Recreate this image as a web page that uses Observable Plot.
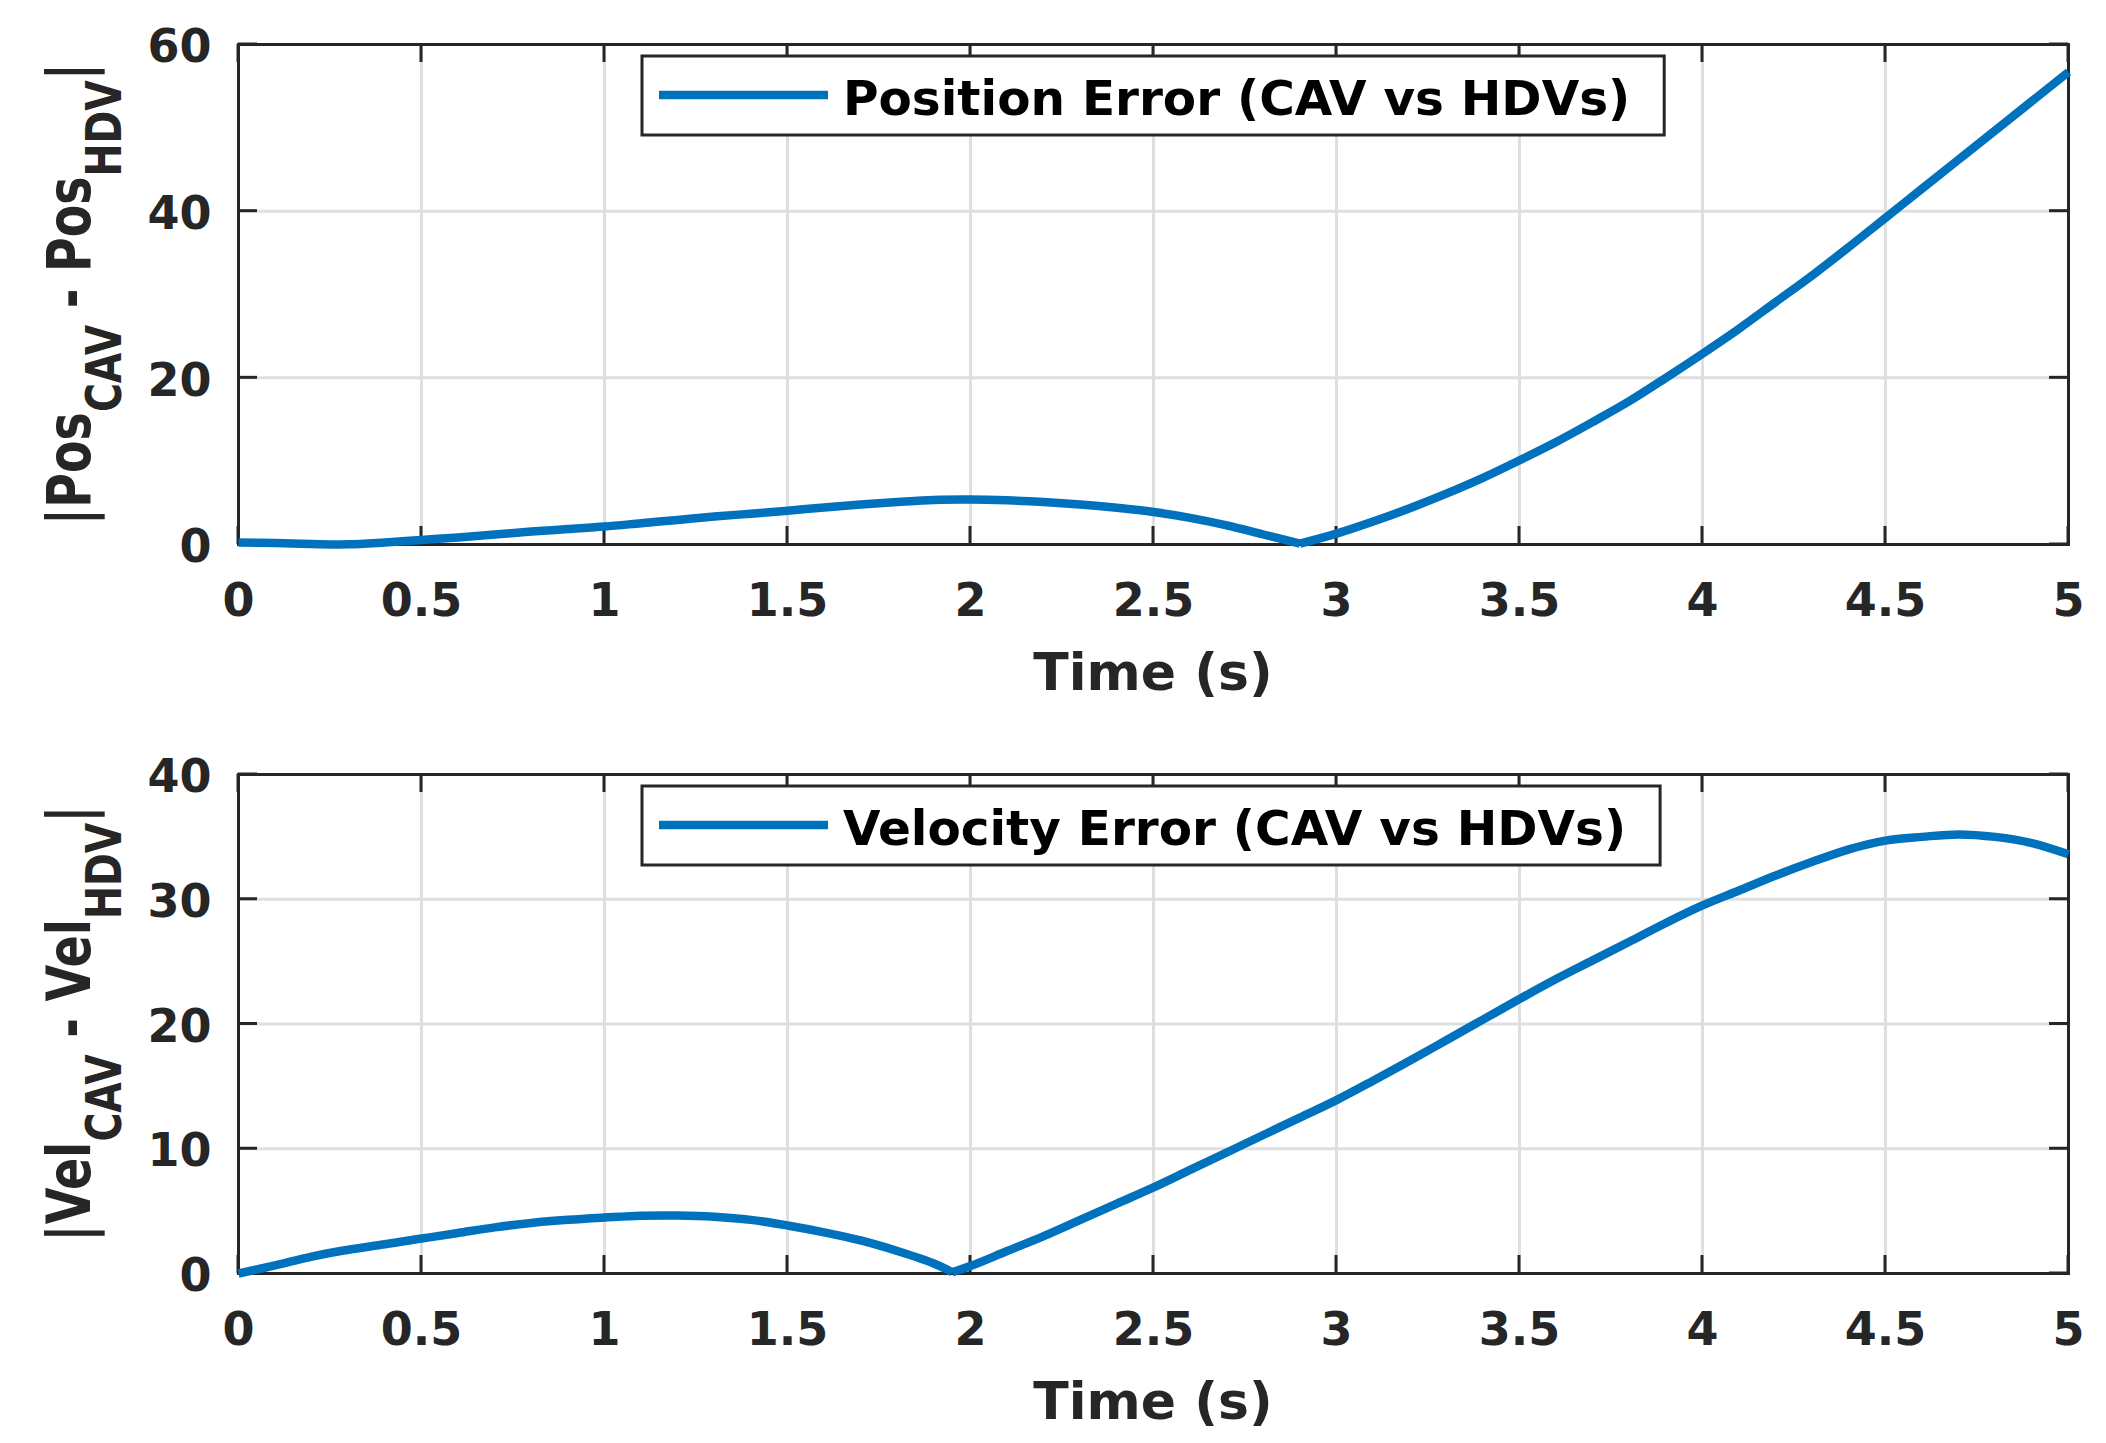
<!DOCTYPE html>
<html>
<head>
<meta charset="utf-8">
<script src="https://cdn.jsdelivr.net/npm/d3@7"></script>
<script src="https://cdn.jsdelivr.net/npm/@observablehq/plot@0.6"></script>
<style>
  html, body { margin: 0; padding: 0; background: #fff; }
  #chart { width: 2106px; height: 1443px; overflow: hidden; background: #fff; }
  #chart svg { display: block; }
</style>
</head>
<body>
<div id="chart"></div>
<script>
// ---------------- data ----------------
const xTicks = [0, 0.5, 1, 1.5, 2, 2.5, 3, 3.5, 4, 4.5, 5];
const posTicks = [0, 20, 40, 60];
const velTicks = [0, 10, 20, 30, 40];

const posTime = [0, 0.1, 0.2, 0.3, 0.4, 0.5, 0.6, 0.7, 0.8, 0.9,
                 1.0, 1.1, 1.2, 1.3, 1.4, 1.5, 1.6, 1.7, 1.8, 1.9,
                 2.0, 2.1, 2.2, 2.3, 2.4, 2.5, 2.6, 2.7, 2.8, 2.9,
                 3.0, 3.1, 3.2, 3.3, 3.4, 3.5, 3.6, 3.7, 3.8, 3.9,
                 4.0, 4.1, 4.2, 4.3, 4.4, 4.5, 4.6, 4.7, 4.8, 4.9, 5.0];
const posError = [0.25, 0.17, 0.06, 0.02, 0.25, 0.55, 0.85, 1.2, 1.55, 1.85,
                  2.15, 2.55, 2.95, 3.35, 3.7, 4.05, 4.45, 4.8, 5.1, 5.35,
                  5.4, 5.3, 5.1, 4.8, 4.4, 3.9, 3.2, 2.3, 1.2, 0.1,
                  1.3, 2.75, 4.35, 6.1, 8.0, 10.1, 12.3, 14.7, 17.2, 20.0,
                  22.9, 25.9, 29.1, 32.3, 35.7, 39.2, 42.7, 46.2, 49.7, 53.2, 56.7];
// time of the sharp minimum where the two smooth pieces meet
const posKink = 2.9;

const velTime = [0, 0.1, 0.2, 0.3, 0.4, 0.5, 0.6, 0.7, 0.8, 0.9,
                 1.0, 1.1, 1.2, 1.3, 1.4, 1.5, 1.6, 1.7, 1.8, 1.9, 1.95,
                 2.0, 2.1, 2.2, 2.3, 2.4, 2.5, 2.6, 2.7, 2.8, 2.9,
                 3.0, 3.1, 3.2, 3.3, 3.4, 3.5, 3.6, 3.7, 3.8, 3.9,
                 4.0, 4.1, 4.2, 4.3, 4.4, 4.5, 4.6, 4.7, 4.8, 4.9, 5.0];
const velError = [0, 0.65, 1.35, 1.9, 2.35, 2.8, 3.25, 3.7, 4.05, 4.3,
                  4.48, 4.63, 4.65, 4.55, 4.3, 3.85, 3.3, 2.65, 1.8, 0.8, 0.1,
                  0.6, 1.8, 3.0, 4.3, 5.6, 6.9, 8.3, 9.7, 11.1, 12.5,
                  13.9, 15.45, 17.05, 18.7, 20.35, 22.0, 23.6, 25.1, 26.6, 28.1,
                  29.5, 30.7, 31.9, 33.0, 34.0, 34.7, 35.0, 35.2, 35.0, 34.5, 33.6];
const velKink = 1.95;

const xLabel = "Time (s)";
const posLegend = "Position Error (CAV vs HDVs)";
const velLegend = "Velocity Error (CAV vs HDVs)";
const posYLabel = [["|Pos", false], ["CAV", true], [" - Pos", false], ["HDV", true], ["|", false]];
const velYLabel = [["|Vel", false], ["CAV", true], [" - Vel", false], ["HDV", true], ["|", false]];

// ---------------- style ----------------
const W = 2106;
const FONT = "DejaVu Sans";
const INK = "#262626";
const GRID = "#dfdfdf";
const BLUE = "#0072BD";
const LINE_W = 8.5;

function makePanel(cfg) {
  // two smooth pieces joined at the sharp minimum (both contain the kink point)
  const data = [];
  cfg.time.forEach((t, i) => {
    if (t <= cfg.kink) data.push({t, v: cfg.values[i], piece: "a"});
    if (t >= cfg.kink) data.push({t, v: cfg.values[i], piece: "b"});
  });
  const chart = Plot.plot({
    width: W,
    height: cfg.height,
    marginLeft: 238,
    marginRight: 38,
    marginTop: cfg.marginTop,
    marginBottom: cfg.marginBottom,
    style: {fontFamily: FONT, fontWeight: "bold", fontSize: "46px", color: INK, background: "#fff", overflow: "visible"},
    x: {domain: [0, 5]},
    y: {domain: cfg.yDomain},
    marks: [
      Plot.gridX(xTicks, {stroke: GRID, strokeOpacity: 1, strokeWidth: 3}),
      Plot.gridY(cfg.yTicks, {stroke: GRID, strokeOpacity: 1, strokeWidth: 3}),
      Plot.axisX(xTicks, {tickSize: 0, tickPadding: 39, tickFormat: d => String(d), fontSize: 46, label: null}),
      Plot.axisY(cfg.yTicks, {tickSize: 0, tickPadding: 27, tickFormat: d => String(d), fontSize: 46, label: null, dy: 3}),
      Plot.frame({stroke: INK, strokeWidth: 3}),
      Plot.line(data, {x: "t", y: "v", z: "piece", curve: "catmull-rom", stroke: BLUE, strokeWidth: LINE_W, strokeLinejoin: "round", strokeLinecap: "butt"})
    ]
  });
  document.getElementById("chart").appendChild(chart);

  const svg = d3.select(chart);
  const sx = chart.scale("x"), sy = chart.scale("y");
  const xL = sx.apply(0), xR = sx.apply(5);
  const yB = sy.apply(cfg.yDomain[0]), yT = sy.apply(cfg.yDomain[1]);

  // inward tick marks on all four sides (MATLAB box style)
  const tg = svg.append("g").attr("stroke", INK).attr("stroke-width", 3);
  for (const v of xTicks) {
    const x = sx.apply(v);
    tg.append("line").attr("x1", x).attr("x2", x).attr("y1", yB).attr("y2", yB - 18);
    tg.append("line").attr("x1", x).attr("x2", x).attr("y1", yT).attr("y2", yT + 18);
  }
  for (const v of cfg.yTicks) {
    const y = sy.apply(v);
    tg.append("line").attr("x1", xL).attr("x2", xL + 19).attr("y1", y).attr("y2", y);
    tg.append("line").attr("x1", xR).attr("x2", xR - 19).attr("y1", y).attr("y2", y);
  }
  // keep data line on top
  svg.selectAll('g[aria-label="line"]').raise();

  // x axis label
  svg.append("text")
    .attr("x", (xL + xR) / 2).attr("y", yB + 146)
    .attr("text-anchor", "middle")
    .attr("font-size", 52).attr("font-weight", "bold").attr("font-family", FONT)
    .attr("fill", INK)
    .text(xLabel);

  // y axis label with subscripts
  const F = 47.5, SUB = 0.83, DROP = 24;
  const yl = svg.append("text")
    .attr("transform", `translate(90,${(yB + yT) / 2}) scale(1.28,1) rotate(-90)`)
    .attr("text-anchor", "middle")
    .attr("font-family", FONT).attr("font-weight", "bold")
    .attr("fill", INK)
    .style("white-space", "pre");
  let shifted = false;
  for (const [s, sub] of cfg.ylabel) {
    const ts = yl.append("tspan").attr("font-size", sub ? F * SUB : F).text(s);
    if (sub && !shifted) { ts.attr("dy", DROP); shifted = true; }
    else if (!sub && shifted) { ts.attr("dy", -DROP); shifted = false; }
  }

  // legend
  const lx = 642, ly = yT + 12, lh = 79;
  const lg = svg.append("g");
  const rect = lg.append("rect");
  lg.append("line")
    .attr("x1", 659).attr("x2", 828).attr("y1", ly + 39).attr("y2", ly + 39)
    .attr("stroke", BLUE).attr("stroke-width", LINE_W);
  const lt = lg.append("text")
    .attr("x", 843).attr("y", ly + 59)
    .attr("text-anchor", "start")
    .attr("font-size", 48.5).attr("font-weight", "bold").attr("font-family", FONT)
    .attr("fill", "#000")
    .text(cfg.legend);
  const tw = lt.node().getComputedTextLength();
  rect.attr("x", lx).attr("y", ly).attr("width", 843 + tw + 34 - lx).attr("height", lh)
    .attr("fill", "#fff").attr("stroke", INK).attr("stroke-width", 3);
}

makePanel({time: posTime, values: posError, kink: posKink, yDomain: [0, 60], yTicks: posTicks,
           legend: posLegend, ylabel: posYLabel, height: 720, marginTop: 44, marginBottom: 176});
makePanel({time: velTime, values: velError, kink: velKink, yDomain: [0, 40], yTicks: velTicks,
           legend: velLegend, ylabel: velYLabel, height: 723, marginTop: 54, marginBottom: 170});
</script>
</body>
</html>
